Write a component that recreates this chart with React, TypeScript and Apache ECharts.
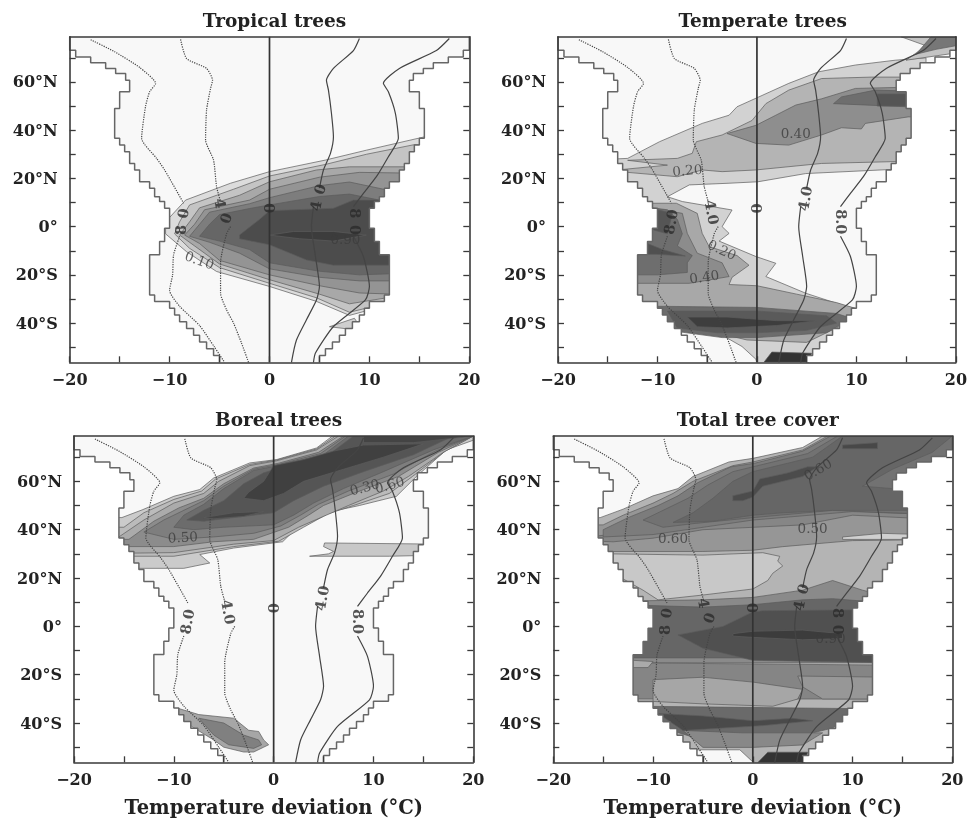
import React, { useEffect, useRef } from "react";
import * as echarts from "echarts";

type Pt = [number, number];

const panelTitles = ["Tropical trees", "Temperate trees", "Boreal trees", "Total tree cover"];
const xTickValues = [-20, -15, -10, -5, 0, 5, 10, 15, 20];
const xLabelValues = [-20, -10, 0, 10, 20];
const latTickValues = [-50, -40, -30, -20, -10, 0, 10, 20, 30, 40, 50, 60, 70];
const latLabelValues = [-40, -20, 0, 20, 40, 60];

// land outline: half width (degC) for each latitude row
const landEdges = [78.75, 73.1, 70.3, 68, 65.6, 63.5, 60.7, 55.9, 49, 36.6, 33.8, 31, 26.2, 23.5, 18.6, 15.9, 12.4, 10.4, 7.6, -0.7, -6.2, -11.7, -28.3, -31, -33.8, -36.6, -39.4, -42.2, -45, -47.8, -50.6, -53.4, -56.25];
const landHalf = [20, 19.4, 17.9, 16.4, 15.4, 14.4, 14, 15, 15.5, 15, 14.5, 14, 13.5, 13, 12, 11.5, 11, 10.5, 10, 10.5, 11, 12, 11.5, 10, 9.5, 9, 8.3, 7.6, 7, 6.3, 5.6, 5];

// temperature isolines [deviation, latitude]; null = label gap
const isoMinus8: (Pt | null)[] = [[-17.9, 77.5], [-15.5, 72.5], [-13, 66], [-11.4, 59.4], [-12, 55.9], [-12.4, 50], [-12.8, 36.6], [-11.3, 28.3], [-10.5, 23.5], [-8.6, 9.7], null, [-9, -4], [-9.6, -11.7], [-9.7, -20], [-10, -26.5], [-9, -33], [-7, -41], [-5.5, -50], [-4.5, -56.25]];
const isoMinus4: (Pt | null)[] = [[-8.9, 77.6], [-8.3, 69.7], [-6.3, 65.6], [-5.7, 60.7], [-5.9, 57.3], [-6.3, 48.3], [-6.4, 35.9], [-5.6, 27.6], [-5.3, 16.6], [-4.9, 10.4], null, [-3.9, 0], [-4.3, -3], [-4.9, -15], [-4.9, -27.6], [-4.3, -34.5], [-3.6, -40], [-2.8, -48.3], [-2.1, -56.25]];
const isoZero: Pt[] = [[0, 78.75], [0, 10], [0, 5], [0, -56.25]];
const isoPlus4: (Pt | null)[] = [[9, 78], [8.4, 73], [6.4, 65.6], [5.7, 60.7], [5.9, 56.6], [6.2, 47], [6.4, 37.3], [6.1, 30.4], [5.4, 23.5], [5, 16], null, [4.4, 8.3], [4.2, 0], [4.6, -12.4], [5, -24.8], [4.7, -30.4], [3.7, -38.6], [2.7, -47], [2.2, -56.25]];
const isoPlus8: (Pt | null)[] = [[18, 78], [16.7, 73], [13, 65.6], [11.4, 59.4], [11.9, 55.9], [12.6, 47], [12.9, 36.6], [11.9, 29], [10.7, 20.7], [9.4, 13.8], [8.4, 8.3], null, [8.4, -4], [9.4, -12.4], [10, -24.8], [9.6, -30.4], [6.4, -41.4], [4.6, -52.4], [4.4, -56.25]];

// ---- Tropical trees cover bands
const tropicalBands: Pt[][] = [
  [[-10.4, -3], [-10.4, 2], [-8.4, 11], [-3.9, 18], [0, 22.8], [5.6, 27.6], [9.7, 31.7], [15.8, 37.5], [17, 37.5], [17, -36], [10.5, -34], [8, -36.8], [4.7, -31], [0, -24.8], [-5.3, -18.6], [-8.3, -10.4]],
  [[6, -41.5], [8.5, -38], [9, -41], [8, -42.5]],
  [[-9.5, -3], [-9, 2], [-8, 9], [-3.6, 15.5], [0, 21], [5.6, 25.8], [9.7, 30], [14.5, 34], [17, 34], [17, -31], [13, -31], [11, -32.5], [8, -35.5], [4.7, -29.5], [0, -23.5], [-5, -17], [-8, -9]],
  [[-9, -3.5], [-8, 2], [-7, 7.8], [-3, 13], [0, 18.6], [4.7, 23.5], [8, 24.8], [17, 24.8], [17, -29], [12.5, -29], [8, -32], [5, -28], [0, -22], [-5, -15.5], [-7.5, -8]],
  [[-8.5, -3.5], [-7.5, 1], [-6.5, 7], [-2, 11], [0, 15.5], [5, 20.5], [9, 22.5], [17, 22], [17, -28], [12.5, -28], [9, -27.5], [5, -24.5], [0, -20], [-5, -14], [-7, -7]],
  [[-8, -4], [-7, 1], [-6, 6], [-2, 9.5], [0, 12], [5, 17], [8, 18.5], [12, 15], [13, 13], [17, 13], [17, -22.5], [12.5, -22.5], [9, -22.5], [5, -21], [0, -17.5], [-3, -11], [-6, -6.5]],
  [[-7, -4], [-6, 1], [-5, 5], [-2, 7.5], [0, 9], [5, 12.5], [8, 13.5], [11, 11], [17, 11], [17, -19.5], [12.5, -19.5], [9, -20], [5, -18.5], [0, -15], [-2, -9.5], [-5, -6]],
  [[-3, -3.5], [-1, 3], [0, 6.6], [6.4, 7.6], [8.4, 11], [17, 11], [17, -16], [6.4, -16], [3.7, -13.8], [0, -7.5], [-3, -5]],
  [[0, -3.5], [2.4, -2], [6.4, -2], [9.7, -3.5], [6.4, -6], [3, -5]],
];
const tropicalShades = ["#dcdcdc", "#cfcfcf", "#c4c4c4", "#a8a8a8", "#949494", "#7d7d7d", "#666666", "#4c4c4c", "#3c3c3c"];

// ---- Temperate trees cover bands
const temperateBands: Pt[][] = [
  [[-13, 28.3], [-9.8, 35.2], [-5.5, 42.8], [-2.8, 46.2], [-2, 49.7], [0.2, 53.8], [3.2, 59.4], [6.2, 64.2], [9.9, 67], [13.9, 69], [17, 70], [17, 23.8], [14, 23.8], [4.9, 22], [0.1, 18.6], [-2.8, 18], [-6.8, 17.3], [-9, 12.4], [-7.5, 10.4], [-2.5, 6.9], [-3.5, 0], [-2.8, -2.8], [-3.8, -6], [-0.1, -12.4], [1.9, -15.2], [0.9, -20.7], [4.9, -27.6], [8.9, -33], [10, -34], [12, -34], [12, -40], [7, -50], [5, -57], [0, -57], [-0.1, -55], [-1.5, -49.7], [-3.5, -45], [-6, -44], [-8.1, -41.4], [-11, -36], [-20, -34], [-20, 27]],
  [[14.5, 78.7], [20, 78.7], [20, 72], [15, 69], [17, 75]],
  [[17.5, 78.7], [20, 78.7], [20, 75], [18, 73.5], [16, 71.5]],
  [[-8, 28.3], [-6.5, 30.4], [-6.1, 35.2], [-3.5, 38], [-0.5, 44], [0.9, 51], [3.2, 56.6], [6.5, 61.4], [11.5, 62], [17, 62], [17, 27], [14.2, 27], [6.5, 26.2], [-0.1, 23.5], [-3.5, 22.8], [-5.5, 23.5], [-8, 20.7], [-13, 22.5], [-14, 23.5], [-9, 25.5], [-13, 27.5]],
  [[-3, 38.6], [-0.1, 42], [1.9, 46.2], [3.9, 50.4], [6.5, 53], [9.9, 57.3], [17, 58], [17, 45.5], [15.2, 45.5], [10.9, 42.8], [10.5, 40.5], [8.5, 41], [6.5, 38], [3.2, 33.8], [-0.1, 34.5]],
  [[7.7, 51], [8.5, 53.8], [11.9, 56.6], [17, 56], [17, 49.7], [15, 49.7]],
  [[12.1, 55], [17, 55], [17, 50], [12.1, 50]],
  [[-11, 9.7], [-8.1, 9.7], [-6, 5.5], [-5.5, -2.8], [-4.8, -8.3], [-2, -12], [-0.8, -16], [-2.5, -21], [-2.8, -24], [0, -24.5], [4, -28], [8, -31.5], [10, -34], [9, -40], [5, -48], [-1, -47], [-4, -44], [-8, -42], [-12, -36], [-13, -28], [-13, -10], [-12, 0]],
  [[-11, 8], [-7.5, 5.5], [-7, -2.8], [-6, -11], [-3.5, -15], [-2.8, -20.7], [-6.8, -23.5], [-13, -23.5], [-13, 0]],
  [[-11, 8], [-9, 7], [-8, 3], [-7.5, -3], [-8, -8], [-6.5, -12], [-7, -15], [-7, -19], [-10, -20], [-13, -20], [-13, -8], [-11, -5]],
  [[-13, -11.5], [-10, -11.5], [-7.2, -12.2], [-9.5, -9.5], [-11, -7], [-13, -7]],
  [[-11, 8], [-8.5, 5.5], [-9, -3], [-10.3, -1.5], [-11, 0]],
  [[-10.2, -33], [0, -33.5], [8, -36], [9.5, -38], [7, -44], [0, -46], [-3.5, -46], [-8, -43.5], [-10, -37]],
  [[-9, -35], [0, -35], [7, -37], [8, -40], [5, -43], [0, -44], [-4, -44], [-8, -42]],
  [[-7, -37.5], [-3, -37.5], [2, -39], [6, -39], [2, -41], [-3, -42], [-6, -41.5]],
  [[0.7, -56.25], [1.5, -52], [5.5, -52.5], [5.2, -56.25]],
];
const temperateShades = ["#d2d2d2", "#c4c4c4", "#777777", "#b4b4b4", "#8e8e8e", "#6e6e6e", "#555555", "#a8a8a8", "#8c8c8c", "#6e6e6e", "#505050", "#555555", "#6c6c6c", "#5a5a5a", "#3e3e3e", "#333333"];

// ---- Boreal trees cover bands
const borealBands: Pt[][] = [
  [[-15.2, 45], [-13.1, 48.3], [-10, 53.8], [-7.4, 56.6], [-6, 61.4], [-2.4, 67.6], [0.3, 69], [4.3, 73.8], [5.9, 78.75], [20, 78.75], [20, 77], [17.3, 73], [14.3, 62], [12.3, 53.8], [8.6, 50], [5.9, 47.6], [3.9, 45.5], [2.3, 40.7], [0.9, 35], [-4, 32.4], [-7.4, 29.7], [-6.4, 26.2], [-9, 24], [-20, 24], [-20, 45]],
  [[5.1, 34.5], [17, 34], [17, 29.5], [11.6, 29], [3.6, 29], [5.5, 30], [6, 31], [5, 33]],
  [[-20, 41], [-15, 41], [-13, 47], [-10, 52.5], [-7.2, 56], [-5.8, 61], [-2.4, 67], [0.3, 68.8], [4.3, 73.4], [6.2, 78.75], [20, 78.75], [17.2, 72.5], [13.9, 62], [11.6, 55], [8, 50], [5.4, 46.5], [3, 41], [0.5, 35.2], [-4, 33], [-10, 29], [-20, 29]],
  [[-20, 37], [-15.5, 37], [-13, 44], [-10, 51], [-7, 55], [-5.5, 60], [-2.4, 66.5], [0.3, 68.5], [4.3, 73], [6.5, 78.75], [20, 78.75], [17, 72], [13.5, 62], [11, 56], [7.5, 50], [5, 45.5], [2.5, 41], [0, 35.5], [-4, 34], [-10, 30.5], [-20, 30]],
  [[-20, 36], [-14.5, 36], [-12, 43.5], [-9.5, 49], [-7, 53], [-5, 59], [-2, 65.5], [0.5, 67.5], [4.5, 72], [7, 78.75], [20, 78.75], [16.5, 72], [12.5, 62], [8, 55], [5, 50], [3.5, 46], [1.5, 41], [-2, 36], [-6, 35], [-10, 33], [-20, 33]],
  [[-13, 39], [-11, 44], [-9, 48], [-7, 52], [-5, 58], [-2, 65], [0.5, 67], [4.7, 71.5], [7.2, 78.75], [20, 78.75], [16.2, 72.5], [12, 63], [7.5, 56], [4.5, 50.5], [2.7, 46], [0.7, 41.5], [-2, 38.5], [-6, 37], [-10, 36]],
  [[-10, 41], [-9, 46], [-7, 50.5], [-5, 57], [-2, 64.5], [0.5, 66.5], [5, 71], [7.5, 78.75], [20, 78.75], [16, 73], [11, 64], [7, 57], [4, 51], [2, 46], [0, 42], [-5, 41], [-8, 40]],
  [[-8.7, 44], [-7, 48], [-5, 52], [-3, 59], [-1, 63.5], [1, 66], [5.5, 71], [8, 78.75], [18, 78.75], [14, 71], [9, 64], [5, 58], [2, 52], [0, 47], [-4, 45], [-7, 43.5]],
  [[-3, 53], [-2.5, 55.5], [-1, 60], [0, 66.5], [3, 69], [6, 72.5], [9, 75], [15, 75.5], [11, 70], [7, 65], [3, 60], [1, 55], [-1, 52]],
  [[-7, 45], [-4, 47], [-1, 47.5], [-3, 45.5], [-6, 44.5]],
  [[9, 76], [14, 76], [20, 78.75], [9, 78.75]],
  [[-9.5, -34], [-7.5, -36.5], [-4, -38], [-2.5, -43], [-1.5, -43.5], [-1, -47], [-0.5, -49], [-1, -50], [-2, -52], [-3, -52], [-5, -50], [-6, -47], [-8, -42], [-10, -36]],
  [[-7.5, -38], [-5, -40], [-3, -45], [-1.5, -47], [-1.2, -49], [-2, -50.5], [-4.5, -49], [-6, -45]],
];
const borealShades = ["#cbcbcb", "#c8c8c8", "#bbbbbb", "#ababab", "#8c8c8c", "#7e7e7e", "#6c6c6c", "#555555", "#404040", "#454545", "#444444", "#a6a6a6", "#808080"];

// ---- Total tree cover bands
const totalBands: Pt[][] = [
  [[-20, 45], [-15.3, 45], [-13, 48.5], [-10, 54], [-7.5, 57], [-6, 62], [-2.4, 68], [0, 69.5], [5, 74], [7, 78.75], [20, 78.75], [20, -57], [1, -57], [0, -56], [-1.3, -51], [-5.5, -51], [-20, -51]],
  [[-20, 42], [-15, 42], [-13, 46], [-10, 51], [-8, 55], [-6, 60], [-2, 66.5], [0, 68], [5, 73], [7.5, 78.75], [20, 78.75], [20, 36], [10, 35.5], [3, 33], [0, 31.5], [-5, 31], [-20, 31]],
  [[-20, 36], [-14, 38], [-12, 43.5], [-9, 48], [-7, 53], [-5, 59], [-2, 65], [0.5, 67], [5, 72], [8, 78.75], [20, 78.75], [20, 44], [10, 46], [5, 42], [0, 41], [-5, 40], [-10, 36.5], [-14, 35]],
  [[-15, 40], [-12.5, 45], [-9.5, 50], [-7.5, 54], [-5.5, 59.5], [-2.2, 66], [0.2, 67.5], [5, 72.5], [7.8, 78.75], [20, 78.75], [20, 46], [10, 47.5], [0, 44], [-10, 38], [-15, 37]],
  [[-11, 44], [-8.5, 49], [-6.5, 53], [-4.5, 58.5], [-2, 64], [0.5, 66.5], [5.5, 71.5], [8.5, 78.75], [20, 78.75], [20, 46], [8, 48], [0, 45], [-6, 42.5], [-9, 41]],
  [[-8, 43], [-6, 47], [-4, 53], [-2, 60], [0, 64], [2, 66], [6, 70], [9, 78.75], [20, 78.75], [18, 72], [14, 65], [11, 58], [17, 56], [17, 48], [8, 48], [3, 47], [0, 46], [-4, 43.5]],
  [[-2, 52], [-2, 54], [0, 56], [0.7, 61], [3.5, 63.5], [5.5, 66], [6.5, 66], [5, 62], [3, 60], [1, 58], [0, 53.5], [-1, 52]],
  [[9, 75], [12.5, 76], [12.5, 73.5], [9, 73.5]],
  [[-14, 30], [-14, 22], [-11, 15], [-9.5, 11], [-5, 13], [0, 15.5], [1.5, 19], [2, 22], [3, 25], [2.5, 27], [2.7, 29], [1, 30.5], [-5, 29.5]],
  [[9, 37], [13, 38.5], [17, 38], [17, 36], [9, 36]],
  [[-13, 10.5], [-5, 11], [0, 12], [5, 15], [8, 19], [11, 15], [14, 12], [14, -15], [-14, -15]],
  [[-13, 9], [-5, 8], [0, 9], [5, 11], [8, 11.5], [11, 10.5], [14, 9], [14, -13], [-14, -13]],
  [[-7.5, -3.5], [-3, 0], [0, 6], [1, 6.5], [14, 7], [14, -15], [0, -14], [-5, -9]],
  [[-2, -3], [0, -2], [5, -1.5], [9, -3], [9, -5], [5, -5.5], [0, -4.5], [-2, -4]],
  [[-14, -15], [14, -16], [14, -30], [-14, -30]],
  [[4.5, -20.5], [14, -21], [14, -30], [7, -30], [5, -25]],
  [[-10, -22], [-5, -21], [0, -23], [5, -26], [4.5, -30], [2, -33], [-5, -32], [-10, -31]],
  [[-14, -13.5], [-10, -14.5], [-10.5, -17], [-14, -17]],
  [[-11, -33], [11, -34], [8, -42], [4, -46], [0, -47.5], [-5, -47], [-9, -42]],
  [[-7, -43], [-1, -44], [7, -44], [5, -49], [0, -50], [-5, -50]],
  [[-9.5, -36], [-5, -37], [0, -39], [4, -38], [6, -39], [1, -41], [-3, -42], [-7, -43]],
  [[0.5, -56.25], [1.5, -52], [5.5, -52], [5.2, -56.25]],
];
const totalShades = ["#b4b4b4", "#969696", "#868686", "#7c7c7c", "#727272", "#666666", "#4c4c4c", "#484848", "#c8c8c8", "#d0d0d0", "#8a8a8a", "#666666", "#505050", "#3c3c3c", "#858585", "#979797", "#a6a6a6", "#aaaaaa", "#6a6a6a", "#888888", "#4a4a4a", "#333333"];

// ---- isoline labels [deviation, latitude]
const isoLabelPosClear: Pt[] = [[-8.7, 2], [-4.5, 6], [0, 7.5], [4.8, 11.7], [8.5, 2]];
const isoLabelTextClear = ["8.0", "4.0", "0", "4.0", "8.0"];
const isoLabelRotClear = [80, -80, 90, 80, -90];
const isoLabelPosDark: Pt[] = [[-8.7, 5.5], [-8.9, -1.4], [-4.4, 3.5], [-4.9, 9.7], [0, 7.6], [5, 15.5], [4.6, 8.6], [8.6, 5.5], [8.6, -1.4]];
const isoLabelTextDark = ["0", "8", "0", "4", "0", "0", "4", "8", "0"];
const isoLabelRotDark = [80, 90, 70, -80, 90, 70, 80, -90, -90];

// ---- contour labels per panel
const coverLabelPos: Pt[][] = [
  [[-7, -13.8], [7.6, -5]],
  [[-7, 23.5], [3.9, 39], [-3.5, -9.5], [-5.3, -20.7]],
  [[-9.1, 37], [9.1, 57.7], [11.6, 58.7]],
  [[-8, 36.6], [6, 40.7], [6.5, 65], [7.8, -4.8]],
];
const coverLabelText = [
  ["0.10", "0.90"],
  ["0.20", "0.40", "0.20", "0.40"],
  ["0.50", "0.30", "0.60"],
  ["0.60", "0.50", "0.60", "0.90"],
];
const coverLabelRot = [
  [-20, 0],
  [5, 0, -25, 8],
  [3, 15, 15],
  [0, 0, 30, 0],
];

const FONT = "'DejaVu Serif', serif";
const LAT_MAX = 78.75;
const LAT_MIN = -56.25;
const panelBoxes = [
  { left: 69.7, top: 36.7, width: 399.6, height: 325.6 },
  { left: 558, top: 36.7, width: 399.3, height: 325.6 },
  { left: 74, top: 436, width: 399.3, height: 326.3 },
  { left: 553.3, top: 436, width: 399, height: 326.5 },
];
const allBands = [tropicalBands, temperateBands, borealBands, totalBands];
const allShades = [tropicalShades, temperateShades, borealShades, totalShades];

function stair(sign: number): Pt[] {
  const out: Pt[] = [];
  landHalf.forEach((h, i) => {
    out.push([sign * h, landEdges[i]], [sign * h, landEdges[i + 1]]);
  });
  return out;
}

function lineData(arr: (Pt | null)[]) {
  return arr.map((p) => (p ? p : [NaN, NaN]));
}

function polySeries(polys: Pt[][], fills: string[], stroke: string, lw: number, idx: number) {
  return {
    type: "custom",
    coordinateSystem: "cartesian2d",
    xAxisIndex: idx * 2,
    yAxisIndex: idx * 2,
    clip: true,
    silent: true,
    z: 2,
    data: polys.map((p, i) => [p[0][0], p[0][1], i]),
    renderItem: (params: any, api: any) => {
      const i = params.dataIndex;
      return {
        type: "polygon",
        shape: { points: polys[i].map((q) => api.coord(q)) },
        style: { fill: fills[i], stroke, lineWidth: lw },
      };
    },
  };
}

function labelSeries(pos: Pt[], text: string[], rot: number[], idx: number, font: number, weight: any, color: string) {
  return {
    type: "scatter",
    xAxisIndex: idx * 2,
    yAxisIndex: idx * 2,
    symbolSize: 1,
    silent: true,
    z: 6,
    itemStyle: { color: "transparent" },
    data: pos.map((p, i) => ({
      value: p,
      label: {
        show: true,
        position: "inside",
        formatter: text[i],
        rotate: rot[i],
        fontFamily: FONT,
        fontSize: font,
        fontWeight: weight,
        color,
      },
    })),
  };
}

function buildOption() {
  const titles: any[] = [];
  const grids: any[] = [];
  const xAxes: any[] = [];
  const yAxes: any[] = [];
  const series: any[] = [];
  const axisLine = { show: true, onZero: false, lineStyle: { color: "#3a3a3a", width: 1.6 } };
  const tick = (values: number[], len: number) => ({
    show: true,
    inside: true,
    length: len,
    customValues: values,
    lineStyle: { color: "#3a3a3a", width: 1.3 },
  });
  const labelStyle = { fontFamily: FONT, fontSize: 16, color: "#222", fontWeight: "bold" };

  panelBoxes.forEach((box, idx) => {
    titles.push({
      text: panelTitles[idx],
      left: box.left + box.width / 2,
      top: box.top - 31,
      textAlign: "center",
      textStyle: { fontFamily: FONT, fontSize: 18.5, fontWeight: "bold", color: "#222" },
    });
    grids.push({ ...box, show: true, backgroundColor: "#f8f8f8", borderWidth: 0 });
    const bottomRow = idx >= 2;
    xAxes.push({
      type: "value",
      gridIndex: idx,
      min: -20,
      max: 20,
      position: "bottom",
      z: 10,
      axisLine,
      splitLine: { show: false },
      axisTick: tick(xTickValues, 6),
      axisLabel: {
        ...labelStyle,
        customValues: xLabelValues,
        margin: 9,
        formatter: (v: number) => (v < 0 ? "\u2212" + Math.abs(v) : String(v)),
      },
      name: bottomRow ? "Temperature deviation (\u00b0C)" : "",
      nameLocation: "middle",
      nameGap: 35,
      nameTextStyle: { fontFamily: FONT, fontSize: 19.5, fontWeight: "bold", color: "#222" },
    });
    xAxes.push({
      type: "value",
      gridIndex: idx,
      min: -20,
      max: 20,
      position: "top",
      z: 10,
      axisLine,
      splitLine: { show: false },
      axisTick: { show: false },
      axisLabel: { show: false },
    });
    yAxes.push({
      type: "value",
      gridIndex: idx,
      min: LAT_MIN,
      max: LAT_MAX,
      position: "left",
      z: 10,
      axisLine,
      splitLine: { show: false },
      axisTick: tick(latTickValues, 6),
      axisLabel: {
        ...labelStyle,
        customValues: latLabelValues,
        margin: 12,
        formatter: (v: number) => (v === 0 ? "0\u00b0" : Math.abs(v) + "\u00b0" + (v > 0 ? "N" : "S")),
      },
    });
    yAxes.push({
      type: "value",
      gridIndex: idx,
      min: LAT_MIN,
      max: LAT_MAX,
      position: "right",
      z: 10,
      axisLine,
      splitLine: { show: false },
      axisTick: tick(latTickValues, 6),
      axisLabel: { show: false },
    });

    const left = stair(-1);
    const right = stair(1);
    series.push(polySeries(allBands[idx], allShades[idx], "#5c5c5c", 0.7, idx));
    series.push(
      polySeries(
        [
          [[-21, LAT_MAX + 1], ...left, [-21, LAT_MIN - 1]] as Pt[],
          [[21, LAT_MAX + 1], ...right, [21, LAT_MIN - 1]] as Pt[],
        ],
        ["#ffffff", "#ffffff"],
        "none",
        0,
        idx
      )
    );
    const common = { type: "line", xAxisIndex: idx * 2, yAxisIndex: idx * 2, showSymbol: false, symbol: "none", silent: true, z: 4 };
    [left, right].forEach((d) => {
      series.push({ ...common, data: d, lineStyle: { color: "#666", width: 1.5 } });
    });
    [isoMinus8, isoMinus4].forEach((d) => {
      series.push({ ...common, data: lineData(d), smooth: 0.2, lineStyle: { color: "#444", width: 1.2, type: "dotted" } });
    });
    [isoPlus4, isoPlus8].forEach((d) => {
      series.push({ ...common, data: lineData(d), smooth: 0.2, lineStyle: { color: "#444", width: 1.2 } });
    });
    series.push({ ...common, data: isoZero, z: 5, lineStyle: { color: "#333", width: 1.7 } });

    const clear = idx === 1 || idx === 2;
    series.push(
      labelSeries(
        clear ? isoLabelPosClear : isoLabelPosDark,
        clear ? isoLabelTextClear : isoLabelTextDark,
        clear ? isoLabelRotClear : isoLabelRotDark,
        idx,
        14.5,
        "bold",
        "#2a2a2a"
      )
    );
    series.push(labelSeries(coverLabelPos[idx], coverLabelText[idx], coverLabelRot[idx], idx, 13.5, "normal", "#3c3c3c"));
  });

  return { animation: false, backgroundColor: "#ffffff", title: titles, grid: grids, xAxis: xAxes, yAxis: yAxes, series };
}

export default function App() {
  const ref = useRef<HTMLDivElement>(null);
  useEffect(() => {
    const chart = echarts.init(ref.current!, undefined, { renderer: "svg" });
    chart.setOption(buildOption() as any);
    return () => chart.dispose();
  }, []);
  return (
    <div
      ref={ref}
      style={{ position: "absolute", left: 0, top: 0, width: 970, height: 822, filter: "blur(0.45px)" }}
    />
  );
}
